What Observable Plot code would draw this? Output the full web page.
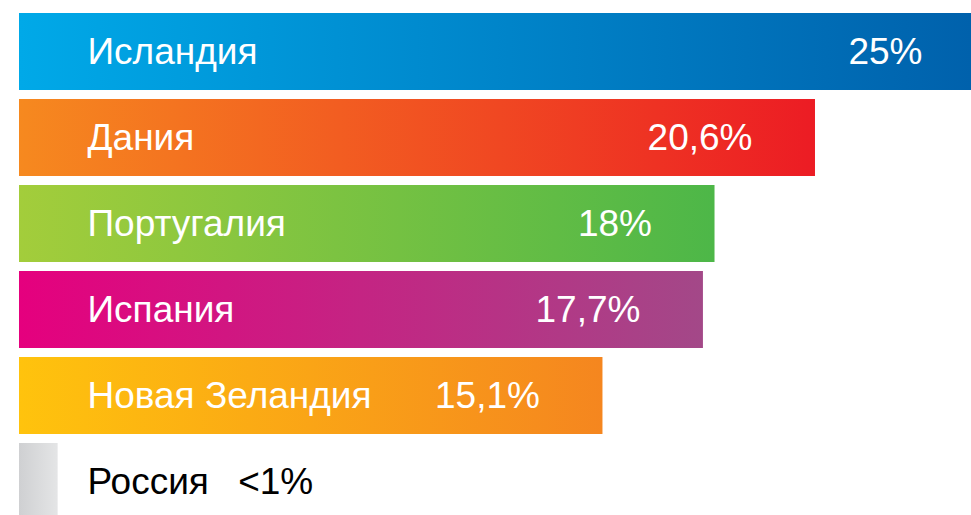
<!DOCTYPE html>
<html>
<head>
<meta charset="utf-8">
<script src="https://cdn.jsdelivr.net/npm/d3@7"></script>
<script src="https://cdn.jsdelivr.net/npm/@observablehq/plot@0.6"></script>
<style>
  html, body { margin: 0; padding: 0; background: #fff; overflow: hidden; }
  svg { overflow: hidden; }
</style>
</head>
<body>
<div id="chart"></div>
<script>
const countries = ["Исландия", "Дания", "Португалия", "Испания", "Новая Зеландия", "Россия"];
const values = [25, 20.6, 18, 17.7, 15.1, 1];
const valueLabels = ["25%", "20,6%", "18%", "17,7%", "15,1%", "<1%"];
const gradStart = ["#00a9e8", "#f6891f", "#a3cd3b", "#e5007e", "#ffc30d", "#cfd0d2"];
const gradEnd   = ["#0060ab", "#ec1c24", "#4db748", "#a34888", "#f5861f", "#e4e5e6"];

const data = countries.map((c, i) => ({
  country: c, value: values[i], label: valueLabels[i], gid: `grad${i}`
}));
const main = data.filter(d => d.country !== "Россия");
const russia = data.filter(d => d.country === "Россия");

const defsMark = () => {
  const ns = "http://www.w3.org/2000/svg";
  const defs = document.createElementNS(ns, "defs");
  data.forEach((d, i) => {
    const g = document.createElementNS(ns, "linearGradient");
    g.setAttribute("id", d.gid);
    g.setAttribute("x1", "0"); g.setAttribute("x2", "1");
    g.setAttribute("y1", "0"); g.setAttribute("y2", "0");
    [[0, gradStart[i]], [1, gradEnd[i]]].forEach(([o, c]) => {
      const s = document.createElementNS(ns, "stop");
      s.setAttribute("offset", o);
      s.setAttribute("stop-color", c);
      g.appendChild(s);
    });
    defs.appendChild(g);
  });
  return defs;
};

const font = "'Liberation Sans', Arial, Helvetica, sans-serif";

const chart = Plot.plot({
  width: 971,
  height: 515,
  marginLeft: 19,
  marginRight: 0,
  marginTop: 12,
  marginBottom: 0,
  style: { fontFamily: font, background: "#fff" },
  x: { domain: [0, 25], range: [19, 985], axis: null },
  y: { domain: countries, range: [12, 520], paddingInner: 0.107, paddingOuter: 0, axis: null },
  color: { type: "identity" },
  marks: [
    defsMark,
    Plot.barX(data, { x: "value", y: "country", fill: d => `url(#${d.gid})`, clip: true }),
    Plot.text(main, { x: 0, y: "country", text: "country", textAnchor: "start", dx: 68, fill: "white", fontSize: 37 }),
    Plot.text(main, { x: "value", y: "country", text: "label", textAnchor: "end", dx: -63, fill: "white", fontSize: 37 }),
    Plot.text(russia, { x: 0, y: "country", text: "country", textAnchor: "start", dx: 68, fill: "black", fontSize: 37 }),
    Plot.text(russia, { x: "value", y: "country", text: "label", textAnchor: "start", dx: 180, fill: "black", fontSize: 37 })
  ]
});
document.getElementById("chart").appendChild(chart);
</script>
</body>
</html>
